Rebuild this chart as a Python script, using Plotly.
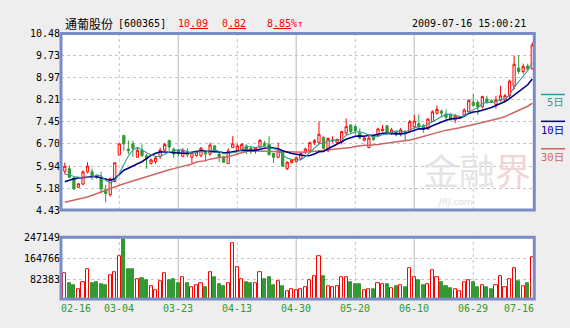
import plotly.graph_objects as go
import pandas as pd

W, H = 570, 328

# ---- data -------------------------------------------------------------
date_labels = ["02-16", "03-04", "03-23", "04-13", "04-30", "05-20", "06-10", "06-29", "07-16"]
label_pos = [0, 12, 25, 38, 51, 64, 77, 90, 103]

opens = [5.76, 5.85, 5.53, 5.21, 5.32, 5.74, 5.74, 5.61, 5.50, 5.13,
         4.96, 5.41, 6.32, 6.99, 6.52, 6.70, 6.24, 6.48, 6.29, 6.03,
         6.09, 6.26, 6.48, 6.82, 6.52, 6.48, 6.27, 6.44, 6.24, 6.30,
         6.29, 6.40, 6.35, 6.63, 6.35, 6.26, 6.02, 6.57, 6.48, 6.48,
         6.63, 6.55, 6.48, 6.59, 6.72, 6.69, 6.37, 6.24, 6.44, 5.85,
         6.06, 6.10, 6.18, 6.40, 6.46, 6.75, 6.74, 6.92, 6.46, 6.80,
         6.74, 6.77, 7.07, 7.35, 7.29, 7.07, 6.82, 6.57, 6.96, 6.99,
         7.15, 7.32, 7.07, 7.12, 7.07, 7.12, 7.12, 7.29, 7.39, 7.32,
         7.21, 7.47, 7.75, 7.82, 7.72, 7.69, 7.52, 7.58, 7.69, 7.80,
         8.13, 8.13, 7.97, 8.24, 8.19, 8.05, 8.19, 8.19, 8.35, 8.69,
         9.30, 9.18, 9.37, 9.27]
highs = [6.06, 5.96, 5.56, 5.35, 5.79, 6.07, 5.85, 5.63, 5.74, 5.30,
         5.55, 6.07, 6.70, 6.99, 6.82, 6.80, 6.57, 6.68, 6.35, 6.20,
         6.29, 6.57, 6.73, 6.82, 6.57, 6.52, 6.55, 6.55, 6.42, 6.46,
         6.59, 6.41, 6.74, 6.66, 6.44, 6.29, 6.55, 6.96, 6.70, 6.73,
         6.68, 6.63, 6.59, 6.86, 6.80, 6.96, 6.40, 6.74, 6.46, 6.10,
         6.18, 6.26, 6.40, 6.57, 6.77, 6.86, 7.46, 6.96, 6.92, 6.96,
         6.88, 7.15, 7.57, 7.35, 7.35, 7.23, 6.96, 6.96, 7.01, 7.25,
         7.35, 7.35, 7.25, 7.15, 7.25, 7.18, 7.52, 7.69, 7.71, 7.39,
         7.57, 7.85, 8.02, 7.88, 7.88, 7.75, 7.72, 7.66, 7.92, 8.22,
         8.41, 8.19, 8.35, 8.35, 8.22, 8.35, 8.69, 8.42, 8.90, 9.72,
         9.74, 9.45, 9.45, 10.18]
lows = [5.66, 5.52, 5.15, 5.19, 5.28, 5.69, 5.46, 5.50, 5.00, 4.69,
        4.89, 5.38, 6.32, 6.46, 6.35, 6.25, 6.22, 6.26, 5.85, 5.99,
        6.02, 6.18, 6.46, 6.46, 6.22, 6.27, 6.24, 6.24, 6.04, 6.26,
        6.24, 6.09, 6.29, 6.40, 6.07, 6.07, 6.02, 6.57, 6.44, 6.44,
        6.35, 6.35, 6.37, 6.57, 6.62, 6.29, 6.04, 6.22, 5.92, 5.80,
        6.02, 6.06, 6.14, 6.35, 6.43, 6.66, 6.70, 6.52, 6.43, 6.74,
        6.69, 6.68, 7.01, 7.07, 7.01, 6.85, 6.79, 6.55, 6.80, 6.96,
        7.12, 7.00, 7.01, 6.96, 6.96, 6.79, 7.10, 7.23, 7.25, 7.08,
        7.19, 7.45, 7.70, 7.65, 7.53, 7.50, 7.41, 7.55, 7.65, 7.77,
        7.99, 7.69, 7.91, 8.07, 8.10, 7.91, 8.15, 8.12, 8.24, 8.55,
        9.10, 9.10, 9.20, 9.24]
closes = [5.93, 5.55, 5.15, 5.33, 5.74, 5.94, 5.60, 5.56, 5.15, 5.00,
          5.50, 6.05, 6.70, 6.70, 6.46, 6.55, 6.48, 6.29, 6.18, 6.15,
          6.22, 6.48, 6.68, 6.59, 6.35, 6.37, 6.48, 6.33, 6.40, 6.42,
          6.55, 6.35, 6.66, 6.44, 6.24, 6.07, 6.46, 6.70, 6.63, 6.68,
          6.52, 6.46, 6.57, 6.82, 6.64, 6.33, 6.24, 6.46, 5.93, 6.07,
          6.14, 6.22, 6.37, 6.52, 6.74, 6.81, 7.03, 6.55, 6.88, 6.83,
          6.85, 7.12, 7.29, 7.12, 7.15, 6.90, 6.90, 6.90, 6.85, 7.21,
          7.21, 7.07, 7.18, 7.01, 7.18, 7.07, 7.46, 7.48, 7.28, 7.19,
          7.55, 7.80, 7.88, 7.75, 7.61, 7.52, 7.66, 7.63, 7.86, 8.19,
          8.02, 7.97, 8.32, 8.13, 8.13, 8.21, 8.35, 8.35, 8.85, 9.43,
          9.18, 9.35, 9.27, 10.09]
volumes = [104900, 67400, 57300, 42300, 72300, 119800, 67400, 72300, 61000, 57300,
           97400, 109700, 172300, 240800, 119800, 119800, 82400, 86100, 79800, 54700,
           38600, 74900, 104900, 79800, 83500, 67400, 88400, 67400, 50900, 59900,
           65900, 52400, 108600, 89900, 63700, 53600, 67400, 224700, 131100, 82400,
           71100, 68500, 67400, 108600, 83500, 89900, 59900, 74900, 53600, 34800,
           44900, 38600, 42300, 52400, 79800, 94700, 172300, 94700, 56200, 52400,
           56200, 89900, 89900, 72300, 61000, 61000, 38600, 42300, 42300, 67400,
           63700, 64800, 46100, 53600, 59900, 49800, 127300, 89900, 79800, 57300,
           63700, 117200, 89900, 72300, 53600, 46100, 42300, 34800, 71200, 79800,
           72300, 49800, 59900, 52400, 42300, 59900, 94700, 49800, 83500, 127300,
           76000, 53600, 68500, 168500]

# moving-average values shown before each window is complete
ma5_lead = [5.66, 5.64, 5.58, 5.55]
ma10_lead = [5.40, 5.46, 5.50, 5.53, 5.55, 5.56, 5.57, 5.57, 5.53]
ma30_lead = [4.70, 4.73, 4.76, 4.80, 4.84, 4.88, 4.94, 5.00, 5.05, 5.10,
             5.16, 5.22, 5.28, 5.33, 5.38, 5.43, 5.48, 5.53, 5.58, 5.63,
             5.68, 5.73, 5.77, 5.81, 5.85, 5.89, 5.93, 5.97, 6.01]

price_ticks = [4.43, 5.18, 5.94, 6.70, 7.45, 8.21, 8.97, 9.73, 10.48]
volume_ticks = [82383, 164766, 247149]

# ---- styling ----------------------------------------------------------
RED = "#ff0000"
GREEN = "#339933"
MA5_C = "#2e9c98"
MA10_C = "#00008b"
MA30_C = "#cc6666"
FRAME = "#7a8cc6"
GRID = "#c4c4c4"
GRID_SOLID = "#d0d0d0"
MONO = "DejaVu Sans Mono, Noto Sans CJK SC"


def px(x):
    return x / W


def py(y):
    return 1 - y / H


idx = list(range(len(closes)))
close_s = pd.Series(closes)


def moving_avg(n, lead):
    m = close_s.rolling(n).mean().round(3).tolist()
    return lead + m[len(lead):]


ma5 = moving_avg(5, ma5_lead)
ma10 = moving_avg(10, ma10_lead)
ma30 = moving_avg(30, ma30_lead)

up = [i for i in idx if closes[i] >= opens[i]]
dn = [i for i in idx if closes[i] < opens[i]]

fig = go.Figure()

fig.add_trace(go.Candlestick(
    x=idx, open=opens, high=highs, low=lows, close=closes,
    increasing=dict(line=dict(color=RED, width=1), fillcolor="#ffffff"),
    decreasing=dict(line=dict(color=GREEN, width=1), fillcolor=GREEN),
    whiskerwidth=0, showlegend=False, xaxis="x", yaxis="y"))

for vals, col, wd in [(ma30, MA30_C, 1.5), (ma10, MA10_C, 1.6), (ma5, MA5_C, 1.1)]:
    fig.add_trace(go.Scatter(x=idx, y=vals, mode="lines",
                             line=dict(color=col, width=wd),
                             showlegend=False, xaxis="x", yaxis="y"))

fig.add_trace(go.Bar(x=up, y=[volumes[i] for i in up], width=0.68,
                     marker=dict(color="#ffffff", line=dict(color=RED, width=1)),
                     showlegend=False, xaxis="x2", yaxis="y2"))
fig.add_trace(go.Bar(x=dn, y=[volumes[i] for i in dn], width=0.68,
                     marker=dict(color=GREEN, line=dict(color=GREEN, width=1)),
                     showlegend=False, xaxis="x2", yaxis="y2"))

# ---- panel geometry (pixel positions inside the 570x328 canvas) -------
LEFT, RIGHT = 61, 534.3
MAIN_TOP, MAIN_BOT = 29.5, 211.5
VOL_TOP, VOL_ZERO, VOL_BORDER = 239.5, 304.5, 303.3
XRANGE = [-0.846, 103.45]

axis_font = dict(family=MONO, size=10, color="#000000")

fig.update_layout(
    width=W, height=H,
    margin=dict(l=0, r=0, t=0, b=0),
    paper_bgcolor="#eeeeee", plot_bgcolor="#ffffff",
    bargap=0, showlegend=False,
    xaxis=dict(domain=[px(LEFT), px(RIGHT)], range=XRANGE, anchor="y",
               showgrid=False, showticklabels=False, zeroline=False,
               rangeslider=dict(visible=False), fixedrange=True),
    xaxis2=dict(domain=[px(LEFT), px(RIGHT)], range=XRANGE, anchor="y2",
                matches="x", showgrid=False, showticklabels=False,
                zeroline=False, fixedrange=True),
    yaxis=dict(domain=[py(MAIN_BOT), py(MAIN_TOP)], range=[4.43, 10.48],
               tickvals=price_ticks, ticktext=[f"{v:.2f}" for v in price_ticks],
               tickfont=axis_font, ticks="", showgrid=True, gridcolor=GRID,
               griddash="3px,3px", gridwidth=1, zeroline=False, anchor="x"),
    yaxis2=dict(domain=[py(VOL_ZERO), py(VOL_TOP)], range=[0, 247149],
                tickvals=volume_ticks, ticktext=[str(v) for v in volume_ticks],
                tickfont=axis_font, ticks="", showgrid=True, gridcolor=GRID,
                griddash="3px,3px", gridwidth=1, zeroline=False, anchor="x2"),
)

shapes = []
# vertical separators: dashed and solid alternate
for k, pos in enumerate(label_pos[1:-1]):
    if k % 2 == 0:
        style = dict(color=GRID, width=1, dash="3px,3px")
    else:
        style = dict(color=GRID_SOLID, width=1.5, dash="solid")
    for y0, y1 in [(MAIN_BOT, MAIN_TOP), (VOL_BORDER, VOL_TOP)]:
        shapes.append(dict(type="line", xref="x", yref="paper", x0=pos, x1=pos,
                           y0=py(y0), y1=py(y1), layer="below", line=style))
# panel frames
for y0, y1 in [(MAIN_BOT, MAIN_TOP), (VOL_BORDER, VOL_TOP)]:
    shapes.append(dict(type="rect", xref="paper", yref="paper",
                       x0=px(LEFT), x1=px(RIGHT), y0=py(y0), y1=py(y1),
                       line=dict(color=FRAME, width=3), layer="above"))
# moving-average key on the right
for yy, col in [(92.3, MA5_C), (120, MA10_C), (148.3, MA30_C)]:
    shapes.append(dict(type="line", xref="paper", yref="paper",
                       x0=px(541), x1=px(565), y0=py(yy), y1=py(yy),
                       line=dict(color=col, width=1.5)))

ann = []


def text(x, y, s, color="#000000", size=10, family=MONO, xanchor="left",
         xref="paper", **kw):
    ann.append(dict(x=x if xref != "paper" else px(x), y=py(y), xref=xref,
                    yref="paper", text=s, showarrow=False, xanchor=xanchor,
                    yanchor="middle", font=dict(color=color, size=size, family=family),
                    borderpad=0, **kw))


# watermark
text(477, 169, "金融<span style='color:#f2d6d6'>界</span>", color="#e4e4e4", size=36,
     family="Noto Sans CJK SC", xanchor="center")
text(436, 203, "<i>JRJ.com</i>", color="#dcdcdc", size=9, family="DejaVu Sans")

# header
text(64, 19, "通葡股份", size=12, family="Noto Sans CJK SC")
text(117, 19, "[600365]")
text(177, 19, "10<span style='text-decoration:underline'>.09</span>", color=RED)
text(221, 19, "0<span style='text-decoration:underline'>.82</span>", color=RED)
text(266, 19, "8<span style='text-decoration:underline'>.85</span>%↑", color=RED)
text(527, 19, "2009-07-16 15:00:21", xanchor="right")

# moving-average key labels
text(565, 100.5, "5日", color=MA5_C, size=10.5, xanchor="right")
text(565, 129, "10日", color=MA10_C, size=10.5, xanchor="right")
text(565, 157, "30日", color=MA30_C, size=10.5, xanchor="right")

# date labels under the volume panel
for pos, lab in zip(label_pos, date_labels):
    if pos == label_pos[0]:
        text(60, 313, lab, color=GREEN)
    elif pos == label_pos[-1]:
        text(535, 313, lab, color=GREEN, xanchor="right")
    else:
        text(pos, 313, lab, color=GREEN, xanchor="center", xref="x")

fig.update_layout(shapes=shapes, annotations=ann)

fig.write_html("out.html")
